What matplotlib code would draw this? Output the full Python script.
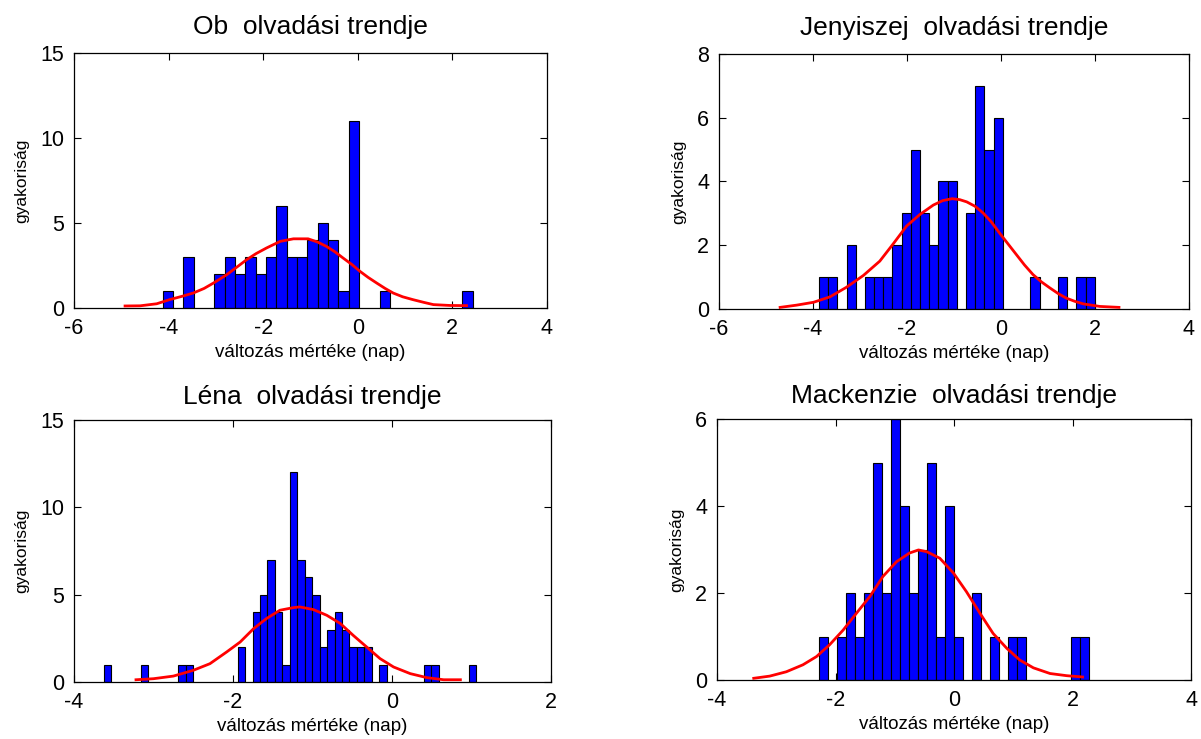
import matplotlib
matplotlib.use("Agg")
import matplotlib.pyplot as plt
import numpy as np

plt.rcParams['font.family'] = ['Liberation Sans', 'DejaVu Sans']
plt.rcParams['axes.unicode_minus'] = False

# --- data ---
# Ob: 30 bins between ob_range
ob_title = 'Ob  olvadási trendje'
ob_range = (-4.125, 2.43)
ob_counts = [1, 0, 3, 0, 0, 2, 3, 2, 3, 2, 3, 6, 3, 3, 4, 5, 4, 1, 11, 0,
             0, 1, 0, 0, 0, 0, 0, 0, 0, 1]
ob_fit_x = [-4.92, -4.60, -4.25, -3.97, -3.70, -3.48, -3.25, -3.05, -2.77, -2.55,
            -2.35, -2.15, -1.93, -1.64, -1.36, -1.05, -0.85, -0.66, -0.48, -0.31,
            -0.12, 0.05, 0.22, 0.40, 0.58, 0.75, 0.95, 1.17, 1.40, 1.60, 1.95, 2.30]
ob_fit_y = [0.12, 0.13, 0.25, 0.50, 0.70, 0.88, 1.15, 1.47, 1.96, 2.42,
            2.84, 3.20, 3.53, 3.92, 4.07, 4.07, 3.88, 3.62, 3.30, 2.94,
            2.55, 2.15, 1.80, 1.47, 1.15, 0.88, 0.66, 0.49, 0.33, 0.20, 0.15, 0.14]

# Jenyiszej: 30 bins
je_title = 'Jenyiszej  olvadási trendje'
je_range = (-3.874, 1.994)
je_counts = [1, 1, 0, 2, 0, 1, 1, 1, 2, 3, 5, 3, 2, 4, 4, 0, 3, 7, 5, 6,
             0, 0, 0, 1, 0, 0, 1, 0, 1, 1]
je_fit_x = [-4.70, -4.35, -3.99, -3.64, -3.29, -2.93, -2.58, -2.29, -2.01, -1.73,
            -1.44, -1.24, -1.04, -0.88, -0.73, -0.55, -0.38, -0.20, -0.03, 0.15,
            0.33, 0.50, 0.68, 0.86, 1.04, 1.22, 1.39, 1.57, 1.75, 2.10, 2.51]
je_fit_y = [0.05, 0.12, 0.21, 0.38, 0.68, 1.05, 1.50, 2.05, 2.60, 2.96,
            3.26, 3.40, 3.46, 3.43, 3.36, 3.22, 3.01, 2.72, 2.38, 2.04,
            1.70, 1.38, 1.08, 0.85, 0.66, 0.48, 0.34, 0.24, 0.16, 0.08, 0.05]

# Léna: 50 bins
le_title = 'Léna  olvadási trendje'
le_range = (-3.627, 1.057)
le_counts = [1, 0, 0, 0, 0, 1, 0, 0, 0, 0, 1, 1, 0, 0, 0, 0, 0, 0, 2, 0,
             4, 5, 7, 4, 1, 12, 7, 6, 5, 2, 3, 4, 3, 2, 2, 2, 0, 1, 0, 0,
             0, 0, 0, 1, 1, 0, 0, 0, 0, 1]
le_fit_x = [-3.22, -3.00, -2.75, -2.50, -2.29, -2.08, -1.91, -1.74, -1.58, -1.41,
            -1.24, -1.16, -0.99, -0.82, -0.65, -0.49, -0.32, -0.15, 0.02, 0.23,
            0.44, 0.65, 0.86]
le_fit_y = [0.13, 0.19, 0.34, 0.67, 1.05, 1.72, 2.29, 3.06, 3.63, 4.11,
            4.26, 4.30, 4.15, 3.82, 3.35, 2.68, 2.01, 1.34, 0.86, 0.48,
            0.25, 0.13, 0.13]

# Mackenzie: 30 bins
ma_title = 'Mackenzie  olvadási trendje'
ma_range = (-2.283, 2.272)
ma_counts = [1, 0, 1, 2, 1, 2, 5, 2, 6, 4, 2, 3, 5, 1, 4, 1, 0, 2, 0, 1,
             0, 1, 1, 0, 0, 0, 0, 0, 1, 1]
ma_fit_x = [-3.38, -3.11, -2.83, -2.55, -2.32, -2.10, -1.87, -1.65, -1.42, -1.20,
            -0.97, -0.75, -0.60, -0.46, -0.24, -0.01, 0.21, 0.44, 0.66, 0.89,
            1.11, 1.34, 1.62, 1.90, 2.17]
ma_fit_y = [0.04, 0.09, 0.19, 0.35, 0.54, 0.81, 1.15, 1.53, 1.92, 2.38,
            2.72, 2.92, 2.99, 2.95, 2.80, 2.46, 2.03, 1.53, 1.07, 0.73,
            0.46, 0.28, 0.15, 0.10, 0.07]

xlabel = 'változás mértéke (nap)'
ylabel = 'gyakoriság'

fig = plt.figure(figsize=(12.01, 7.39), dpi=100)

panels = [
    (ob_title, ob_range, ob_counts, ob_fit_x, ob_fit_y,
     [0.0616, 0.5832, 0.3938, 0.3451], (-6, 4), [-6, -4, -2, 0, 2, 4], (0, 15), [0, 5, 10, 15], 13.5),
    (je_title, je_range, je_counts, je_fit_x, je_fit_y,
     [0.5987, 0.5819, 0.3913, 0.3451], (-6, 4), [-6, -4, -2, 0, 2, 4], (0, 8), [0, 2, 4, 6, 8], 13.5),
    (le_title, le_range, le_counts, le_fit_x, le_fit_y,
     [0.0616, 0.0771, 0.3972, 0.3545], (-4, 2), [-4, -2, 0, 2], (0, 15), [0, 5, 10, 15], 11.5),
    (ma_title, ma_range, ma_counts, ma_fit_x, ma_fit_y,
     [0.5970, 0.0798, 0.3947, 0.3532], (-4, 4), [-4, -2, 0, 2, 4], (0, 6), [0, 2, 4, 6], 11.5),
]

for title, rng, counts, fx, fy, pos, xlim, xticks, ylim, yticks, tpad in panels:
    ax = fig.add_axes(pos)
    counts = np.array(counts)
    edges = np.linspace(rng[0], rng[1], len(counts) + 1)
    m = counts > 0
    ax.bar(edges[:-1][m], counts[m], width=np.diff(edges)[m], align='edge',
           color='#0000ff', edgecolor='black', linewidth=0.8, zorder=2)
    ax.plot(fx, fy, color='#ff0000', linewidth=2.0, zorder=3)
    ax.set_xlim(xlim)
    ax.set_ylim(ylim)
    ax.set_xticks(xticks)
    ax.set_yticks(yticks)
    ax.tick_params(direction='in', length=5, width=0.8, top=True, right=True,
                   labelsize=15.5, pad=7, colors='black')
    for s in ax.spines.values():
        s.set_linewidth(0.9)
    ax.set_title(title, fontsize=19, pad=tpad)
    ax.set_xlabel(xlabel, fontsize=13.5, labelpad=4)
    ax.set_ylabel(ylabel, fontsize=12.5, labelpad=8)

fig.savefig('out.png', dpi=100)
